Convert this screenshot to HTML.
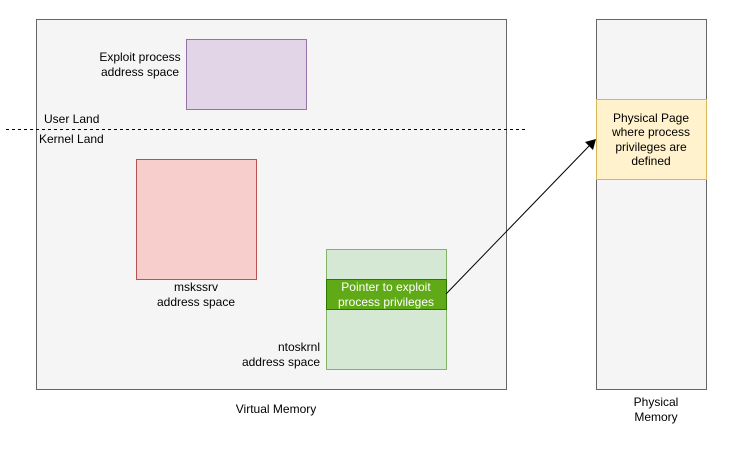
<!DOCTYPE html>
<html><head><meta charset="utf-8"><style>
body{margin:0;background:#fff}
svg text{font-family:"Liberation Sans",Arial,sans-serif;font-size:12px;fill:#000}
</style></head><body>
<svg width="732" height="447" xmlns="http://www.w3.org/2000/svg">
<rect x="36.5" y="19.5" width="470" height="370" fill="#f5f5f5" stroke="#666"/>
<rect x="186.5" y="39.5" width="120" height="70" fill="#e1d5e7" stroke="#9673a6"/>
<text x="140" y="61" text-anchor="middle">Exploit process</text>
<text x="140" y="76" text-anchor="middle">address space</text>
<line x1="6" y1="129.5" x2="526" y2="129.5" stroke="#000" stroke-dasharray="3,3"/>
<text x="44" y="123">User Land</text>
<text x="39" y="143">Kernel Land</text>
<rect x="136.5" y="159.5" width="120" height="120" fill="#f8cecc" stroke="#b85450"/>
<text x="196" y="291" text-anchor="middle">mskssrv</text>
<text x="196" y="306" text-anchor="middle">address space</text>
<rect x="326.5" y="249.5" width="120" height="120" fill="#d5e8d4" stroke="#82b366"/>
<rect x="326.5" y="279.5" width="120" height="30" fill="#60a917" stroke="#2d7600"/>
<text x="386" y="291" text-anchor="middle" style="fill:#fff">Pointer to exploit</text>
<text x="386" y="306" text-anchor="middle" style="fill:#fff">process privileges</text>
<text x="320" y="351" text-anchor="end">ntoskrnl</text>
<text x="320" y="366" text-anchor="end">address space</text>
<text x="276" y="413" text-anchor="middle">Virtual Memory</text>
<rect x="596.5" y="19.5" width="110" height="370" fill="#f5f5f5" stroke="#666"/>
<rect x="596.5" y="99.5" width="110" height="80" fill="#fff2cc" stroke="#d6b656"/>
<text x="651" y="122" text-anchor="middle">Physical Page</text>
<text x="651" y="136" text-anchor="middle">where process</text>
<text x="651" y="151" text-anchor="middle">privileges are</text>
<text x="651" y="165" text-anchor="middle">defined</text>
<text x="656" y="406" text-anchor="middle">Physical</text>
<text x="656" y="421" text-anchor="middle">Memory</text>
<line x1="446" y1="294" x2="590" y2="145" stroke="#000"/>
<polygon points="596,139 593,150 585,142" fill="#000"/>
</svg>
</body></html>
